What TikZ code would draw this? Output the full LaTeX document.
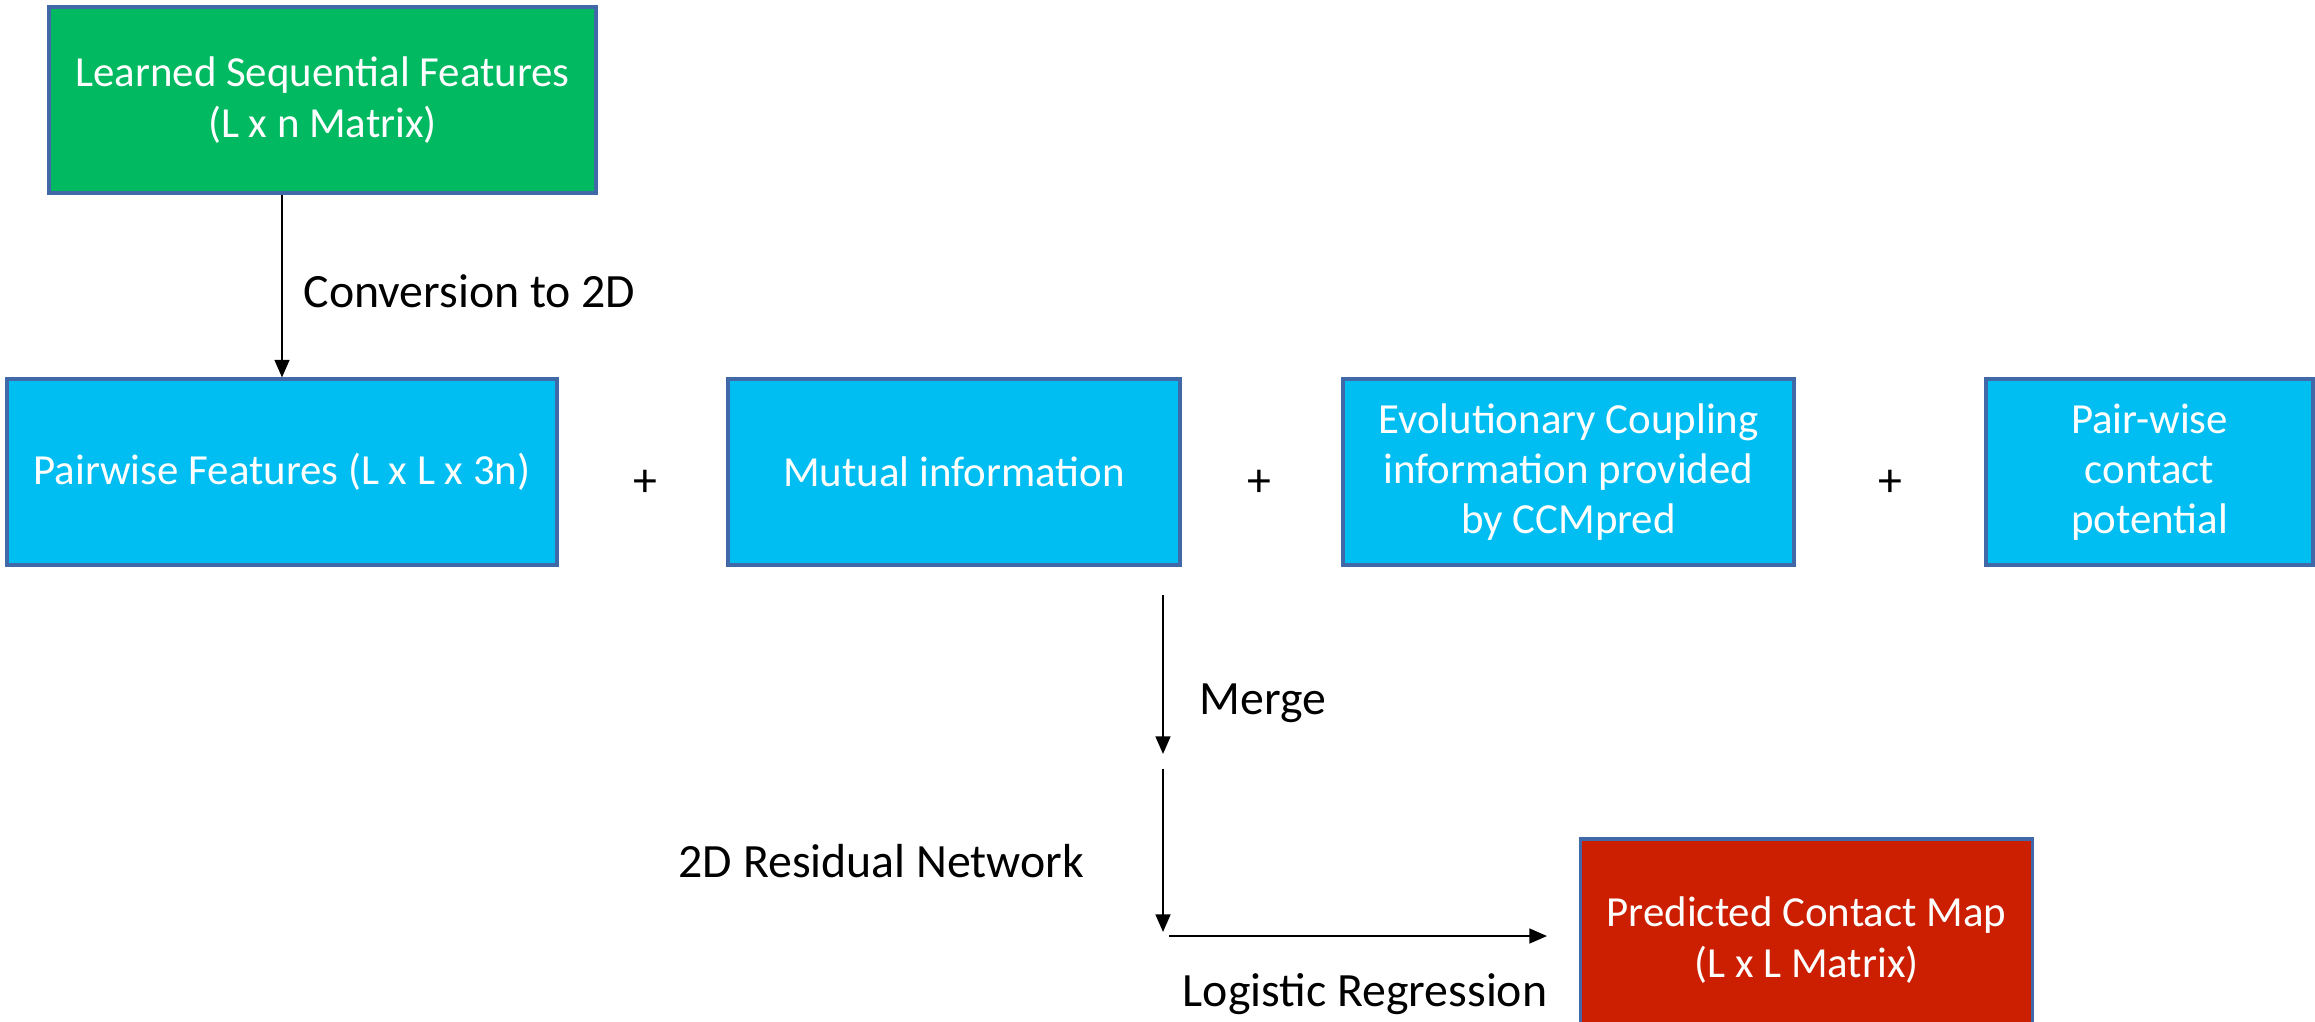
\documentclass[tikz,border=0pt]{standalone}
\usepackage{fontspec}
\setmainfont{Carlito}
\usetikzlibrary{arrows.meta}

\definecolor{seqgreen}{HTML}{00B960}
\definecolor{featcyan}{HTML}{00BEF2}
\definecolor{mapred}{HTML}{CC1E00}
\definecolor{edgeblue}{HTML}{4169A8}

\tikzset{
  box/.style={draw=edgeblue, line width=0.9pt, text=white, align=center,
    inner sep=2pt, minimum height=1.86cm, font=\fontsize{12.2}{14.3}\selectfont},
  lbl/.style={font=\fontsize{13.6}{16}\selectfont, inner sep=0pt},
  flow/.style={-{Triangle[width=4.2pt,length=5pt]}, line width=0.6pt}
}

\begin{document}
\begin{tikzpicture}
  \useasboundingbox (0,0) rectangle (23.15,-10.21);
  % input features
  \node[box, fill=seqgreen, minimum width=5.47cm] (seq) at (3.225,-1.00)
    {Learned Sequential Features\\(L x n Matrix)};
  % pairwise inputs
  \node[box, fill=featcyan, minimum width=5.50cm] (pair) at (2.82,-4.72)
    {Pairwise Features (L x L x 3n)};
  \node[box, fill=featcyan, minimum width=4.52cm] (mutual) at (9.54,-4.72)
    {Mutual information};
  \node[box, fill=featcyan, minimum width=4.51cm] (ccm) at (15.685,-4.72)
    {Evolutionary Coupling\\information provided\\by CCMpred};
  \node[box, fill=featcyan, minimum width=3.27cm] (pot) at (21.495,-4.72)
    {Pair-wise\\contact\\potential};
  \node[lbl] (plusa) at (6.45,-4.83) {+};
  \node[lbl] (plusb) at (12.59,-4.83) {+};
  \node[lbl] (plusc) at (18.90,-4.83) {+};
  % output
  \node[box, fill=mapred, minimum width=4.52cm, minimum height=2.02cm] (cmap) at (18.065,-9.40)
    {Predicted Contact Map\\(L x L Matrix)};

  \draw[flow] (pair.north |- seq.south) -- (pair.north);
  \node[lbl, anchor=west] (conv) at (3.03,-2.91) {Conversion to 2D};

  % merge and residual network
  \coordinate (mtop) at (11.63,-5.95);
  \coordinate (mbot) at (11.63,-7.54);
  \coordinate (rtop) at (11.63,-7.69);
  \coordinate (rbot) at (11.63,-9.32);
  \coordinate (lstart) at (11.69,-9.36);
  \coordinate (lend) at (15.47,-9.36);
  \draw[flow] (mtop) -- (mbot);
  \draw[flow] (rtop) -- (rbot);
  \draw[flow] (lstart) -- (lend);
  \node[lbl, anchor=west] (merge) at (11.99,-7.03) {Merge};
  \node[lbl, anchor=east] (resnet) at (10.85,-8.61) {2D Residual Network};
  \node[lbl] (logreg) at (13.65,-9.94) {Logistic Regression};
\end{tikzpicture}
\end{document}
